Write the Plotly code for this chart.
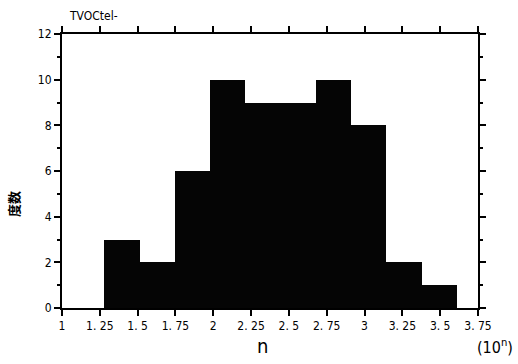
import plotly.graph_objects as go

# Histogram data
bin_edges = [1.28, 1.513, 1.746, 1.979, 2.212, 2.445, 2.678, 2.911, 3.144, 3.377, 3.61]
counts = [3, 2, 6, 10, 9, 9, 10, 8, 2, 1]
x_ticks = [1, 1.25, 1.5, 1.75, 2, 2.25, 2.5, 2.75, 3, 3.25, 3.5, 3.75]
x_tick_labels = ["1", "1. 25", "1. 5", "1. 75", "2", "2. 25", "2. 5", "2. 75", "3", "3. 25", "3. 5", "3. 75"]
y_ticks = [0, 2, 4, 6, 8, 10, 12]

centers = [(bin_edges[i] + bin_edges[i + 1]) / 2 for i in range(len(counts))]
widths = [bin_edges[i + 1] - bin_edges[i] for i in range(len(counts))]

FONT = "DejaVu Sans Condensed, Liberation Sans Narrow, sans-serif"

fig = go.Figure()
fig.add_trace(go.Bar(
    x=centers, y=counts, width=widths,
    marker=dict(color="#050505", line=dict(width=0)),
    showlegend=False,
))

axis_common = dict(
    showgrid=False, zeroline=False, showline=True, linecolor="black", linewidth=2,
    ticks="outside", tickcolor="black", tickwidth=1.5, mirror="allticks",
    tickfont=dict(family=FONT, size=12, color="black"),
)

fig.update_xaxes(
    range=[1, 3.75], tickvals=x_ticks, ticktext=x_tick_labels, ticklen=6,
    **axis_common,
)
fig.update_yaxes(
    range=[0, 12], tickvals=y_ticks, ticklen=6,
    minor=dict(dtick=1, ticks="outside", ticklen=3, tickcolor="black", tickwidth=1.5, showgrid=False),
    **axis_common,
)

fig.update_layout(
    width=518, height=364,
    margin=dict(l=62, r=40, t=34, b=56),
    paper_bgcolor="white", plot_bgcolor="white",
    bargap=0,
    font=dict(family=FONT, color="black"),
    annotations=[
        dict(text="TVOCtel-", xref="paper", yref="paper", x=0.013, y=1.0, yshift=18,
             xanchor="left", yanchor="middle", showarrow=False,
             font=dict(family=FONT, size=12, color="black")),
        dict(text="<b>度数</b>", xref="paper", yref="paper", x=-0.115, y=0.38,
             xanchor="center", yanchor="middle", showarrow=False, textangle=-90,
             font=dict(family="Noto Sans CJK JP", size=13, color="black")),
        dict(text="n", xref="paper", yref="paper", x=0.481, y=0, yshift=-38,
             xanchor="center", yanchor="middle", showarrow=False,
             font=dict(family=FONT, size=20, color="black")),
        dict(text="(10<sup>n</sup>)", xref="paper", yref="paper", x=1.0, y=0, yshift=-38,
             xshift=37, xanchor="right", yanchor="middle", showarrow=False,
             font=dict(family=FONT, size=16, color="black")),
    ],
)

fig.write_html("out.html")
